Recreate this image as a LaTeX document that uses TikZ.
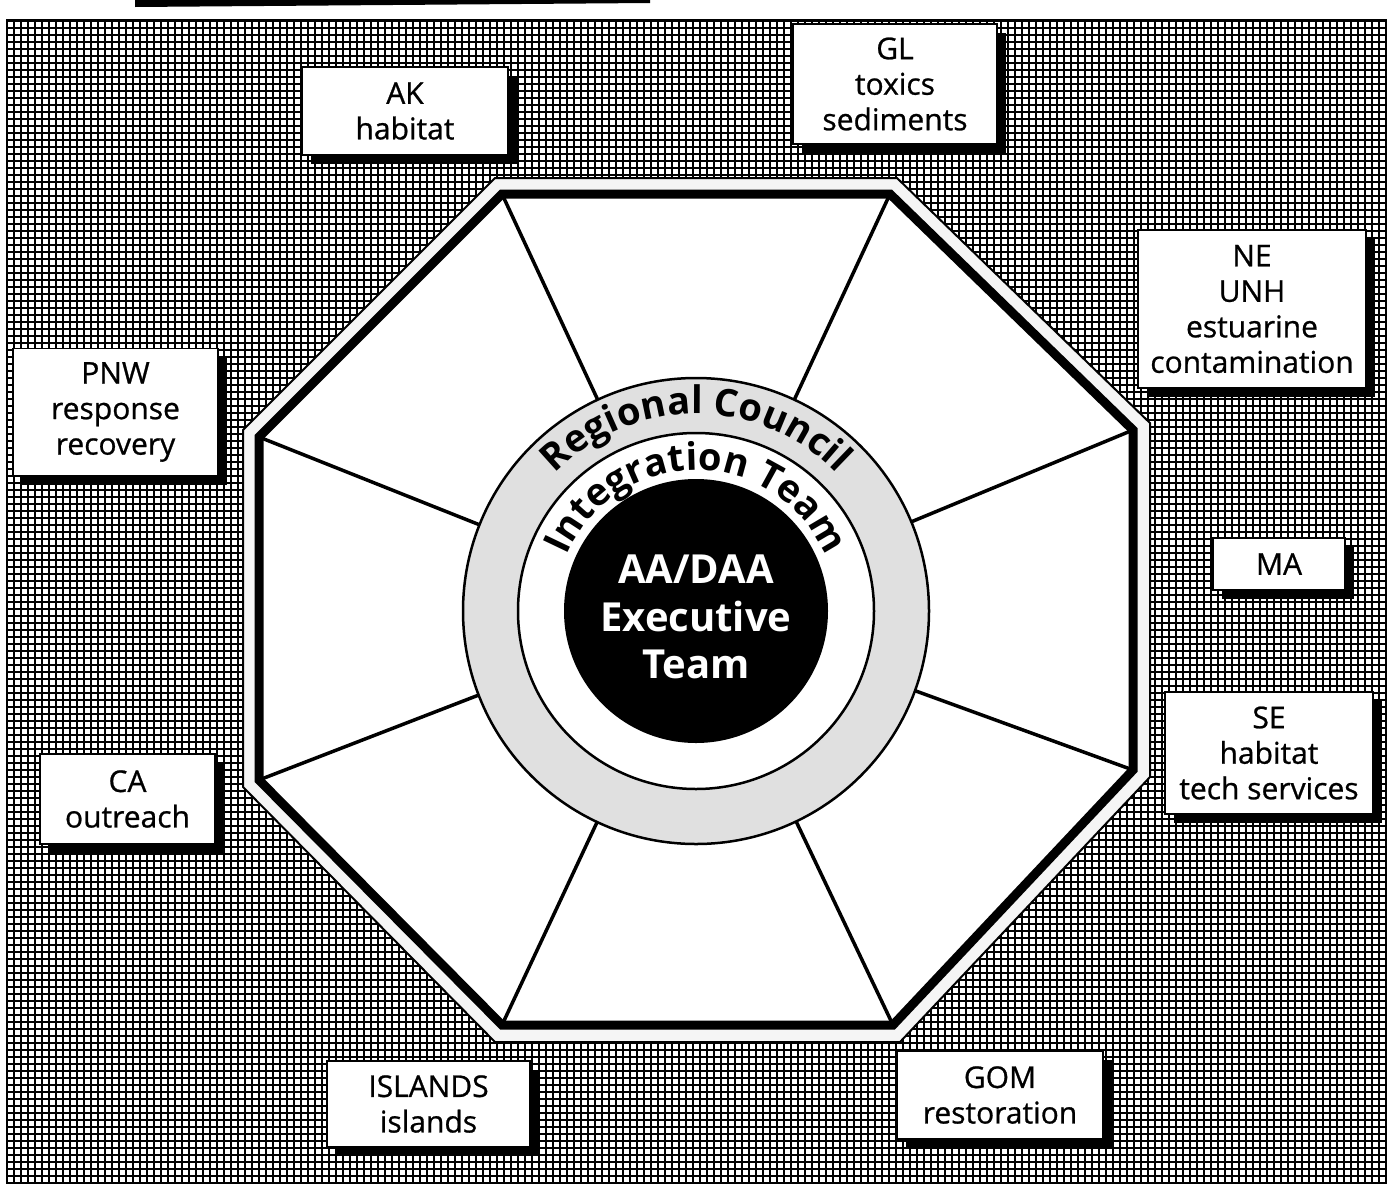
\documentclass[tikz,border=0pt]{standalone}
\usepackage{fontspec}
\setmainfont{Open Sans}
\newfontfamily\unitfont[FakeBold=0.8]{Open Sans}
\usetikzlibrary{decorations.text,shadows}
\begin{document}
\begin{tikzpicture}[x=1pt,y=-1pt,
  unitbox/.style={draw=black, line width=1.6pt, fill=white, align=center,
    inner sep=0pt, font=\unitfont\fontsize{30}{35.5}\selectfont,
    drop shadow={shadow xshift=9pt, shadow yshift=-9pt, fill=black, opacity=1}},
  spoke/.style={line width=3.5pt, line cap=round},
  ringline/.style={line width=2.5pt}]
\useasboundingbox (0,0) rectangle (1390,1189);

% header rule
\fill (135,0) -- (650,0) -- (650,3) -- (135,7) -- cycle;

% hatched field
\fill[white] (7,20) rectangle (1386,1183);
\draw[line width=2.3pt, step=7pt] (7,20) grid (1386,1183);
\draw[line width=2.5pt] (7,20) rectangle (1386,1183);

% octagon: outer band and thick inner frame
\coordinate (C) at (696,611);
\coordinate (o1) at (495,178);
\coordinate (o2) at (897,178);
\coordinate (o3) at (1150,423);
\coordinate (o4) at (1150,777);
\coordinate (o5) at (900,1042);
\coordinate (o6) at (495,1042);
\coordinate (o7) at (243,787);
\coordinate (o8) at (243,430);
\draw[line width=2pt, fill=gray!8] (o1) -- (o2) -- (o3) -- (o4) -- (o5) -- (o6) -- (o7) -- (o8) -- cycle;

\coordinate (i1) at (502,194);
\coordinate (i2) at (890,194);
\coordinate (i3) at (1133,430);
\coordinate (i4) at (1133,770);
\coordinate (i5) at (893,1025);
\coordinate (i6) at (502,1025);
\coordinate (i7) at (259,780);
\coordinate (i8) at (259,437);
\draw[line width=9pt, fill=white, line join=miter] (i1) -- (i2) -- (i3) -- (i4) -- (i5) -- (i6) -- (i7) -- (i8) -- cycle;

% spokes
\foreach \v in {i1,i2,i3,i4,i5,i6,i7,i8}
  \draw[spoke] (\v) -- (C);

% rings
\draw[ringline, fill=gray!24] (C) circle[radius=233];
\draw[ringline, fill=white] (C) circle[radius=178];
\fill (C) circle[radius=132];

% ring captions
\path[decorate, decoration={text along path, text align=center,
  text={|\fontsize{38}{42}\selectfont\bfseries|Regional Council}}]
  (C) ++(-138:197) arc[start angle=-138, end angle=-42, radius=197];
\path[decorate, decoration={text along path, text align=center,
  text={|\fontsize{38}{42}\selectfont\bfseries|Integration Team}}]
  (C) ++(-158:141) arc[start angle=-158, end angle=-22, radius=141];

\node[text=white, align=center, font=\bfseries\fontsize{40}{47.5}\selectfont] (exec) at (696,617) {AA/DAA\\Executive\\Team};

% regional units
\node[unitbox, minimum width=206, minimum height=88] (ak) at (405,111) {AK\\habitat};
\node[unitbox, minimum width=204, minimum height=120] (gl) at (895,84) {GL\\toxics\\sediments};
\node[unitbox, minimum width=228, minimum height=158] (ne) at (1252,309) {NE\\UNH\\estuarine\\contamination};
\node[unitbox, minimum width=205, minimum height=127] (pnw) at (115.5,412) {PNW\\response\\recovery};
\node[unitbox, minimum width=132, minimum height=52] (ma) at (1279,564) {MA};
\node[unitbox, minimum width=208, minimum height=122] (se) at (1269,753) {SE\\habitat\\tech services};
\node[unitbox, minimum width=175, minimum height=90] (ca) at (127.5,799) {CA\\outreach};
\node[unitbox, minimum width=203, minimum height=86] (isl) at (428.5,1104) {ISLANDS\\islands};
\node[unitbox, minimum width=206, minimum height=88] (gom) at (1000,1095) {GOM\\restoration};
\end{tikzpicture}
\end{document}
